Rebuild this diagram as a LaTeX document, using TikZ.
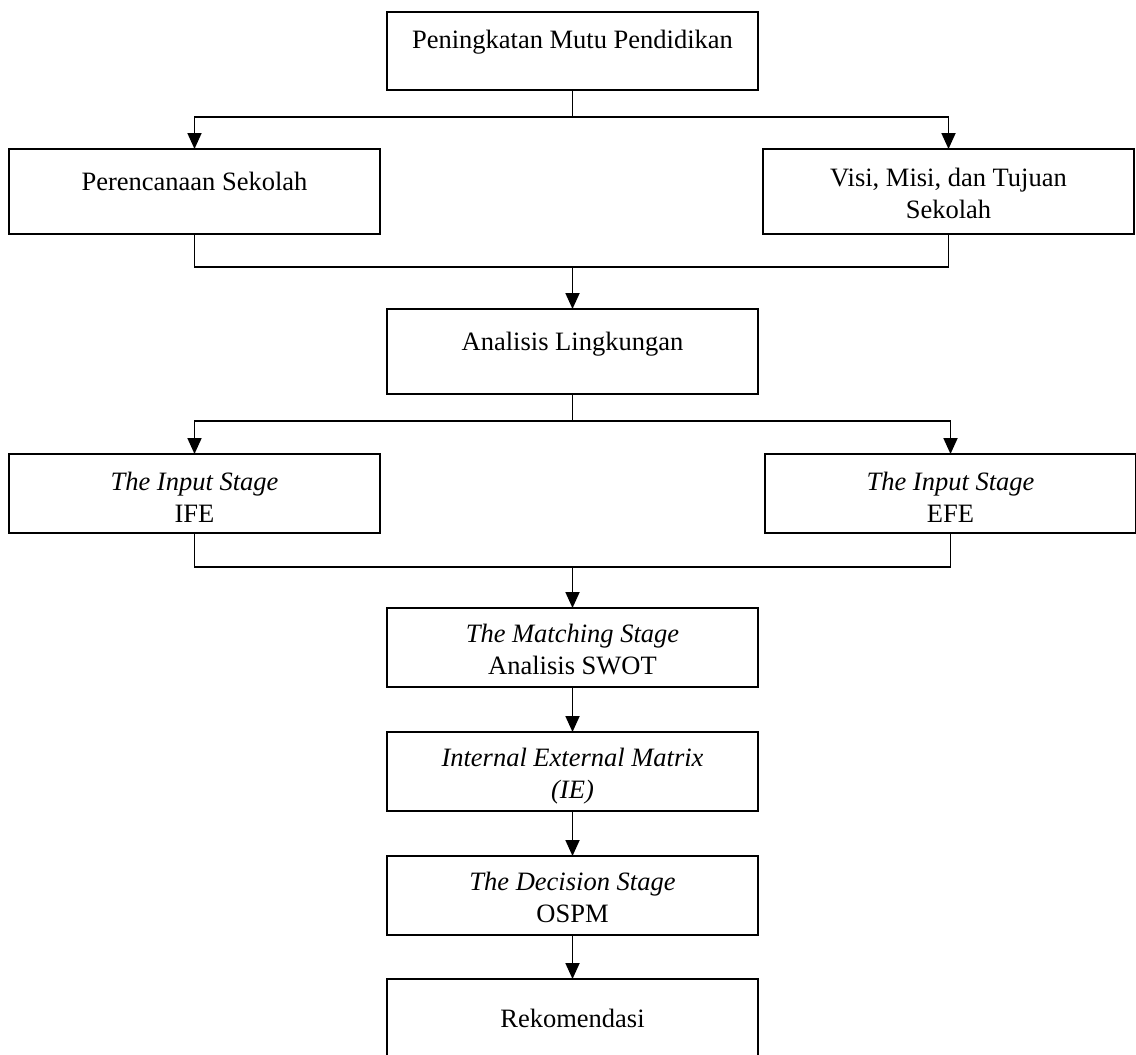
\documentclass[tikz,border=0pt]{standalone}
\usepackage{fontspec}
\setmainfont{Liberation Serif}
\usetikzlibrary{positioning,arrows.meta}

\begin{document}
\begin{tikzpicture}[
	bstyle/.style={draw, line width=0.9pt, text width=180pt, inner xsep=2.75pt,
	inner ysep=0pt, outer sep=0pt, align=flush center, font=\fontsize{13.25}{16}\selectfont},
	astyle/.style={-{Triangle[width=7pt,length=8pt]}, line width=0.9pt}
	]
	\useasboundingbox (0,0) rectangle (568pt,-527.5pt);
	\clip (0,0) rectangle (568pt,-527.5pt);
	
	\node[bstyle, anchor=north, text height=18pt, text depth=21pt] (mutu) at (286.25pt,-6pt) {Peningkatan Mutu Pendidikan};
	\node[bstyle, text height=20.5pt, text depth=22pt] (renc) [below left=29.5pt and 3.5pt of mutu] {Perencanaan Sekolah};
	\node[bstyle, text height=18.5pt, text depth=24pt] (visi) [below right=29.5pt and 2.5pt of mutu] {Visi, Misi, dan Tujuan\\ Sekolah};
	\node[bstyle, text height=20.5pt, text depth=22pt] (ling) [below right=37.5pt and 3.5pt of renc] {Analisis Lingkungan};
	\node[bstyle, text height=18pt, text depth=21.5pt] (ife) [below left=30pt and 3.5pt of ling] {\textit{The Input Stage}\\ IFE};
	\node[bstyle, text height=18pt, text depth=21.5pt] (efe) [below right=30pt and 3.5pt of ling] {\textit{The Input Stage}\\ EFE};
	\node[bstyle, text height=17pt, text depth=22.5pt] (swot) [below right=37.5pt and 3.5pt of ife] {\textit{The Matching Stage}\\ Analisis SWOT};
	\node[bstyle, text height=17pt, text depth=22.5pt] (ie) [below=22.5pt of swot] {\textit{Internal External Matrix}\\ \textit{(IE)}};
	\node[bstyle, text height=17pt, text depth=22.5pt] (ospm) [below=22.5pt of ie] {\textit{The Decision Stage}\\ OSPM};
	\node[bstyle, text height=24pt, text depth=30pt] (rek) [below=22pt of ospm] {Rekomendasi};
	
	\coordinate[below=13.5pt of mutu] (f1);
	\draw[astyle] (mutu) -- (f1) -| (renc);
	\draw[astyle] (f1) -| (visi);
	
	\coordinate[below=16.5pt of renc] (m1);
	\draw[line width=0.9pt] (renc) -- (m1) -| (visi);
	\draw[astyle] (m1 -| ling) -- (ling);
	
	\coordinate[below=13.5pt of ling] (f2);
	\draw[astyle] (ling) -- (f2) -| (ife);
	\draw[astyle] (f2) -| (efe);
	
	\coordinate[below=17pt of ife] (m2);
	\draw[line width=0.9pt] (ife) -- (m2) -| (efe);
	\draw[astyle] (m2 -| swot) -- (swot);
	
	\draw[astyle] (swot) -- (ie);
	\draw[astyle] (ie) -- (ospm);
	\draw[astyle] (ospm) -- (rek);
\end{tikzpicture}
\end{document}
